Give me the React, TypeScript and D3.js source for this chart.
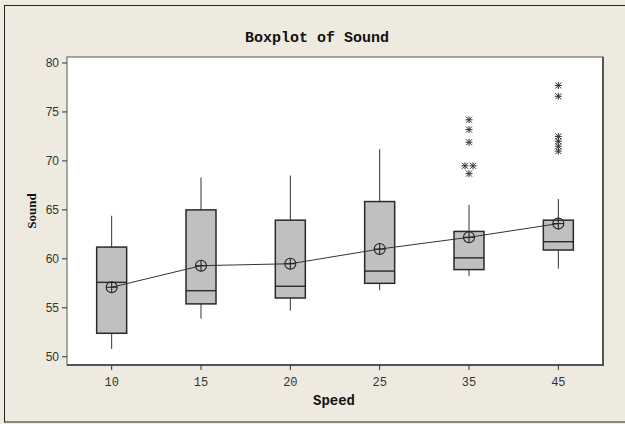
import React from "react";
import * as d3 from "d3";

const speeds = ["10", "15", "20", "25", "35", "45"];
const whiskerLow = [50.8, 53.9, 54.7, 56.8, 58.25, 59.0];
const q1 = [52.4, 55.4, 56.0, 57.5, 58.9, 60.9];
const median = [57.6, 56.75, 57.2, 58.75, 60.1, 61.75];
const q3 = [61.2, 65.0, 63.95, 65.85, 62.8, 63.95];
const whiskerHigh = [64.4, 68.3, 68.5, 71.2, 65.5, 66.1];
const means = [57.1, 59.3, 59.5, 61.0, 62.2, 63.6];
const outliers: number[][] = [
  [],
  [],
  [],
  [],
  [74.2, 73.2, 71.9, 69.5, 69.5, 68.7],
  [77.7, 76.6, 72.5, 72.0, 71.5, 71.0],
];
const yTicks = [50, 55, 60, 65, 70, 75, 80];

const W = 625;
const H = 424;
const plot = { left: 67, top: 57, right: 603, bottom: 365 };

function Asterisk({ x, y }: { x: number; y: number }) {
  const r = 3.5;
  const d = 3;
  return (
    <g stroke="#333" strokeWidth={1}>
      <line x1={x} y1={y - r} x2={x} y2={y + r} />
      <line x1={x - r} y1={y} x2={x + r} y2={y} />
      <line x1={x - d} y1={y - d} x2={x + d} y2={y + d} />
      <line x1={x - d} y1={y + d} x2={x + d} y2={y - d} />
    </g>
  );
}

export default function App() {
  const x = d3.scaleBand().domain(speeds).range([plot.left, plot.right]).padding(0);
  const y = d3.scaleLinear().domain([49.16, 80.61]).range([plot.bottom, plot.top]);
  const bw = 30;
  const cx = (s: string) => (x(s) as number) + x.bandwidth() / 2;
  const meanLine = d3
    .line<number>()
    .x((_, i) => cx(speeds[i]))
    .y((d) => y(d))(means) as string;

  return (
    <svg
      width={W}
      height={H}
      style={{ position: "absolute", left: 0, top: 0, background: "#eeeae0" }}
    >
      <rect x={0} y={0} width={W} height={H} fill="#eeeae0" />
      <rect x={4.5} y={5.5} width={640} height={416.5} fill="none" stroke="#222" strokeWidth={1} />
      <text
        x={317}
        y={42}
        textAnchor="middle"
        fontFamily="'Liberation Mono', monospace"
        fontWeight="bold"
        fontSize={15}
        fill="#111"
      >
        Boxplot of Sound
      </text>
      <rect
        x={plot.left}
        y={plot.top}
        width={plot.right - plot.left}
        height={plot.bottom - plot.top}
        fill="#ffffff"
        stroke="#555"
        strokeWidth={1}
      />
      <line x1={plot.right} y1={plot.top} x2={plot.right} y2={plot.bottom + 1} stroke="#555" strokeWidth={2} />
      <line x1={plot.left} y1={plot.bottom} x2={plot.right + 1} y2={plot.bottom} stroke="#555" strokeWidth={2} />
      {yTicks.map((t) => (
        <g key={t}>
          <line x1={plot.left - 5} x2={plot.left} y1={y(t)} y2={y(t)} stroke="#333" />
          <text
            x={plot.left - 8}
            y={y(t) + 4}
            textAnchor="end"
            fontFamily="'Liberation Sans Narrow', 'Liberation Sans', Arial, sans-serif"
            fontSize={12}
            fill="#333"
          >
            {t}
          </text>
        </g>
      ))}
      {speeds.map((s) => (
        <g key={s}>
          <line x1={cx(s)} x2={cx(s)} y1={plot.bottom} y2={plot.bottom + 5} stroke="#333" />
          <text
            x={cx(s)}
            y={386}
            textAnchor="middle"
            fontFamily="'Liberation Mono', monospace"
            fontSize={12}
            fill="#333"
          >
            {s}
          </text>
        </g>
      ))}
      <text
        x={334}
        y={405}
        textAnchor="middle"
        fontFamily="'Liberation Mono', monospace"
        fontWeight="bold"
        fontSize={14}
        fill="#111"
      >
        Speed
      </text>
      <text
        transform={`translate(36, 211) rotate(-90)`}
        textAnchor="middle"
        fontFamily="'Liberation Serif', serif"
        fontWeight="bold"
        fontSize={13}
        fill="#111"
      >
        Sound
      </text>
      {speeds.map((s, i) => {
        const c = cx(s);
        return (
          <g key={s}>
            <line x1={c} x2={c} y1={y(whiskerHigh[i])} y2={y(q3[i])} stroke="#333" strokeWidth={1} />
            <line x1={c} x2={c} y1={y(q1[i])} y2={y(whiskerLow[i])} stroke="#333" strokeWidth={1} />
            <rect
              x={c - bw / 2}
              y={y(q3[i])}
              width={bw}
              height={y(q1[i]) - y(q3[i])}
              fill="#c0c0c0"
              stroke="#2a2a2a"
              strokeWidth={1.5}
            />
            <line
              x1={c - bw / 2}
              x2={c + bw / 2}
              y1={y(median[i])}
              y2={y(median[i])}
              stroke="#2a2a2a"
              strokeWidth={1.4}
            />
          </g>
        );
      })}
      <path d={meanLine} fill="none" stroke="#333" strokeWidth={1} />
      {speeds.map((s, i) => {
        const c = cx(s);
        const my = y(means[i]);
        return (
          <g key={s} stroke="#222" strokeWidth={1.1} fill="none">
            <circle cx={c} cy={my} r={5.5} />
            <line x1={c - 5.5} x2={c + 5.5} y1={my} y2={my} />
            <line x1={c} x2={c} y1={my - 5.5} y2={my + 5.5} />
          </g>
        );
      })}
      {speeds.map((s, i) => {
        const c = cx(s);
        const counts = d3.rollup(outliers[i], (v) => v.length, (d) => d);
        const seen = new Map<number, number>();
        return (
          <g key={s}>
            {outliers[i].map((v, j) => {
              const n = counts.get(v) || 1;
              const k = seen.get(v) || 0;
              seen.set(v, k + 1);
              const off = n > 1 ? (k - (n - 1) / 2) * 8 : 0;
              return <Asterisk key={j} x={c + off} y={y(v)} />;
            })}
          </g>
        );
      })}
    </svg>
  );
}
